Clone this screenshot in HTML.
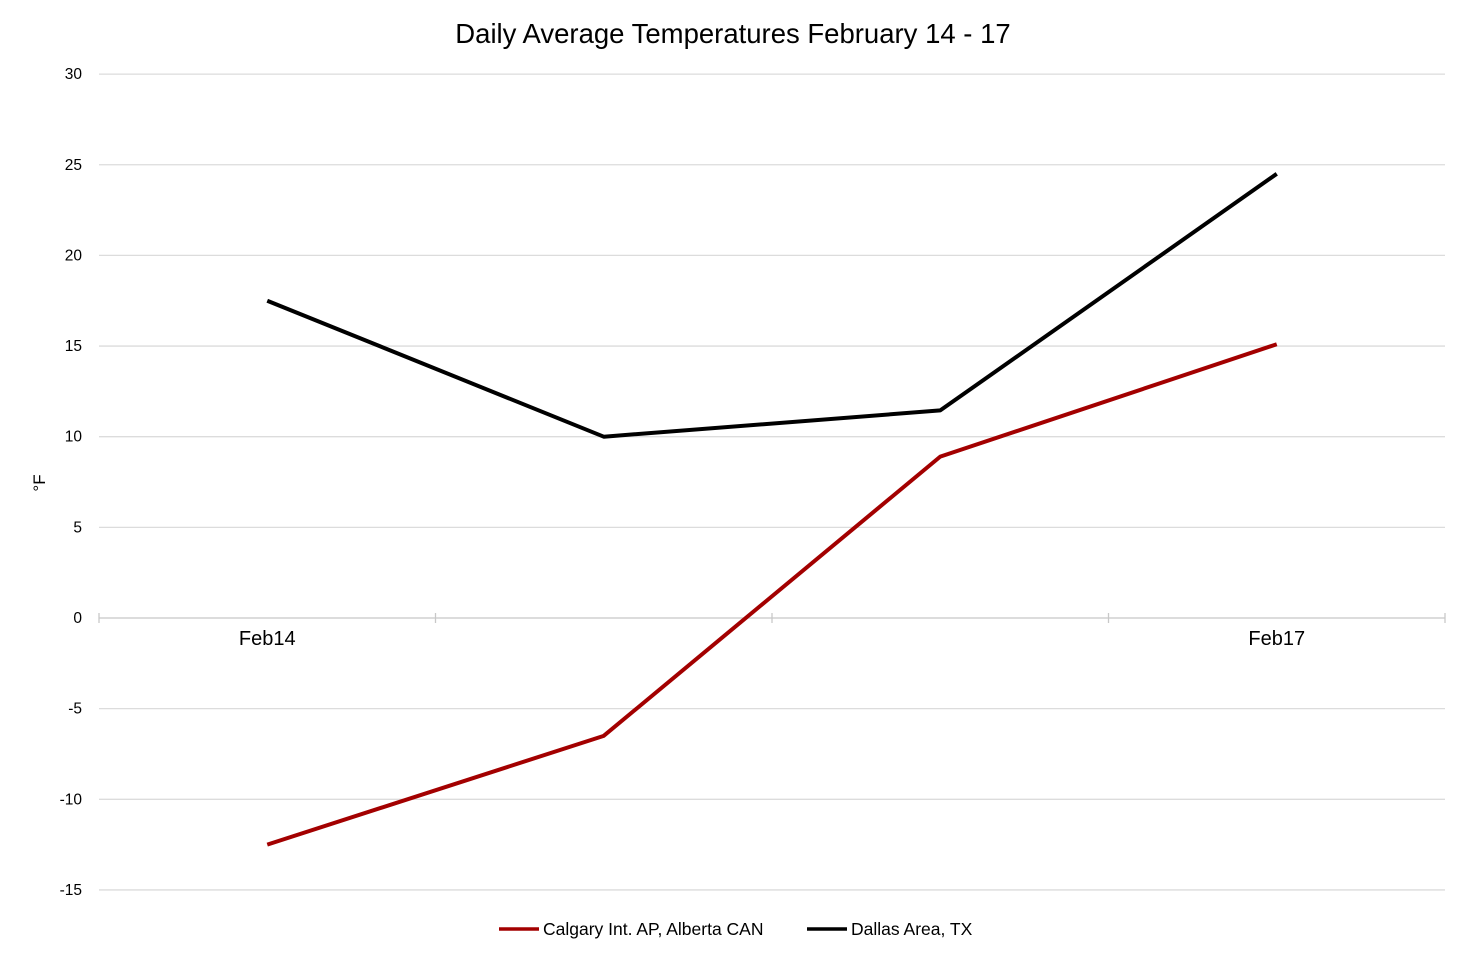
<!DOCTYPE html>
<html><head><meta charset="utf-8"><style>
body{margin:0;background:#fff;}
svg text{font-family:"Liberation Sans",Arial,sans-serif;}
</style></head><body>
<svg id="chart" width="1466" height="958">
<text x="733" y="43" text-anchor="middle" font-size="27.5" fill="#000">Daily Average Temperatures February 14 - 17</text>
<text transform="translate(45,483) rotate(-90)" text-anchor="middle" font-size="17" fill="#000">°F</text>
<g id="grid"></g><g id="series"></g>
<g>
<line x1="499" y1="929" x2="539" y2="929" stroke="#a30000" stroke-width="3.5"/>
<text x="543" y="935" font-size="17.5">Calgary Int. AP, Alberta CAN</text>
<line x1="807" y1="929" x2="847" y2="929" stroke="#000" stroke-width="3.5"/>
<text x="851" y="935" font-size="17.5">Dallas Area, TX</text>
</g>
</svg>
<script>
const categories=["Feb14","Feb15","Feb16","Feb17"];
const categoryLabels=["Feb14","","","Feb17"];
const calgary=[-12.5,-6.5,8.9,15.1];
const dallas=[17.5,10,11.45,24.5];
const yTicks=[30,25,20,15,10,5,0,-5,-10,-15];
const NS="http://www.w3.org/2000/svg";
const left=99,right=1445,y0=618,pxPerUnit=18.13;
const band=(right-left)/categories.length;
function X(i){return left+band*(i+0.5);}
function Y(v){return y0-v*pxPerUnit;}
function mk(t,a,p){const e=document.createElementNS(NS,t);for(const k in a)e.setAttribute(k,a[k]);p.appendChild(e);return e;}
const grid=document.getElementById('grid');
yTicks.forEach(v=>{
 const l=mk('line',{x1:left,x2:right,y1:Y(v),y2:Y(v),stroke:v===0?'#c8c8c8':'#dcdcdc','stroke-width':1.3},grid);
 
 
 const t=mk('text',{x:82,y:Y(v)+5,'text-anchor':'end','font-size':15.5},grid);
 t.textContent=v;
 
 
});
for(let i=0;i<=categories.length;i++){
 const tk=mk('line',{x1:left+band*i,x2:left+band*i,y1:y0-5,y2:y0+5,stroke:'#c8c8c8','stroke-width':1.3},grid);
 
 
}
categories.forEach((c,i)=>{
 const t=mk('text',{x:X(i),y:645,'text-anchor':'middle','font-size':20},grid);
 t.textContent=categoryLabels[i];
 
 
});
const s=document.getElementById('series');
[[calgary,'#a30000','calgary-line'],[dallas,'#000','dallas-line']].forEach(([d,c,n])=>{
 const p=mk('polyline',{points:d.map((v,i)=>X(i)+','+Y(v)).join(' '),fill:'none',stroke:c,'stroke-width':4,'stroke-linejoin':'round'},s);
 
 
});
</script>
</body></html>
